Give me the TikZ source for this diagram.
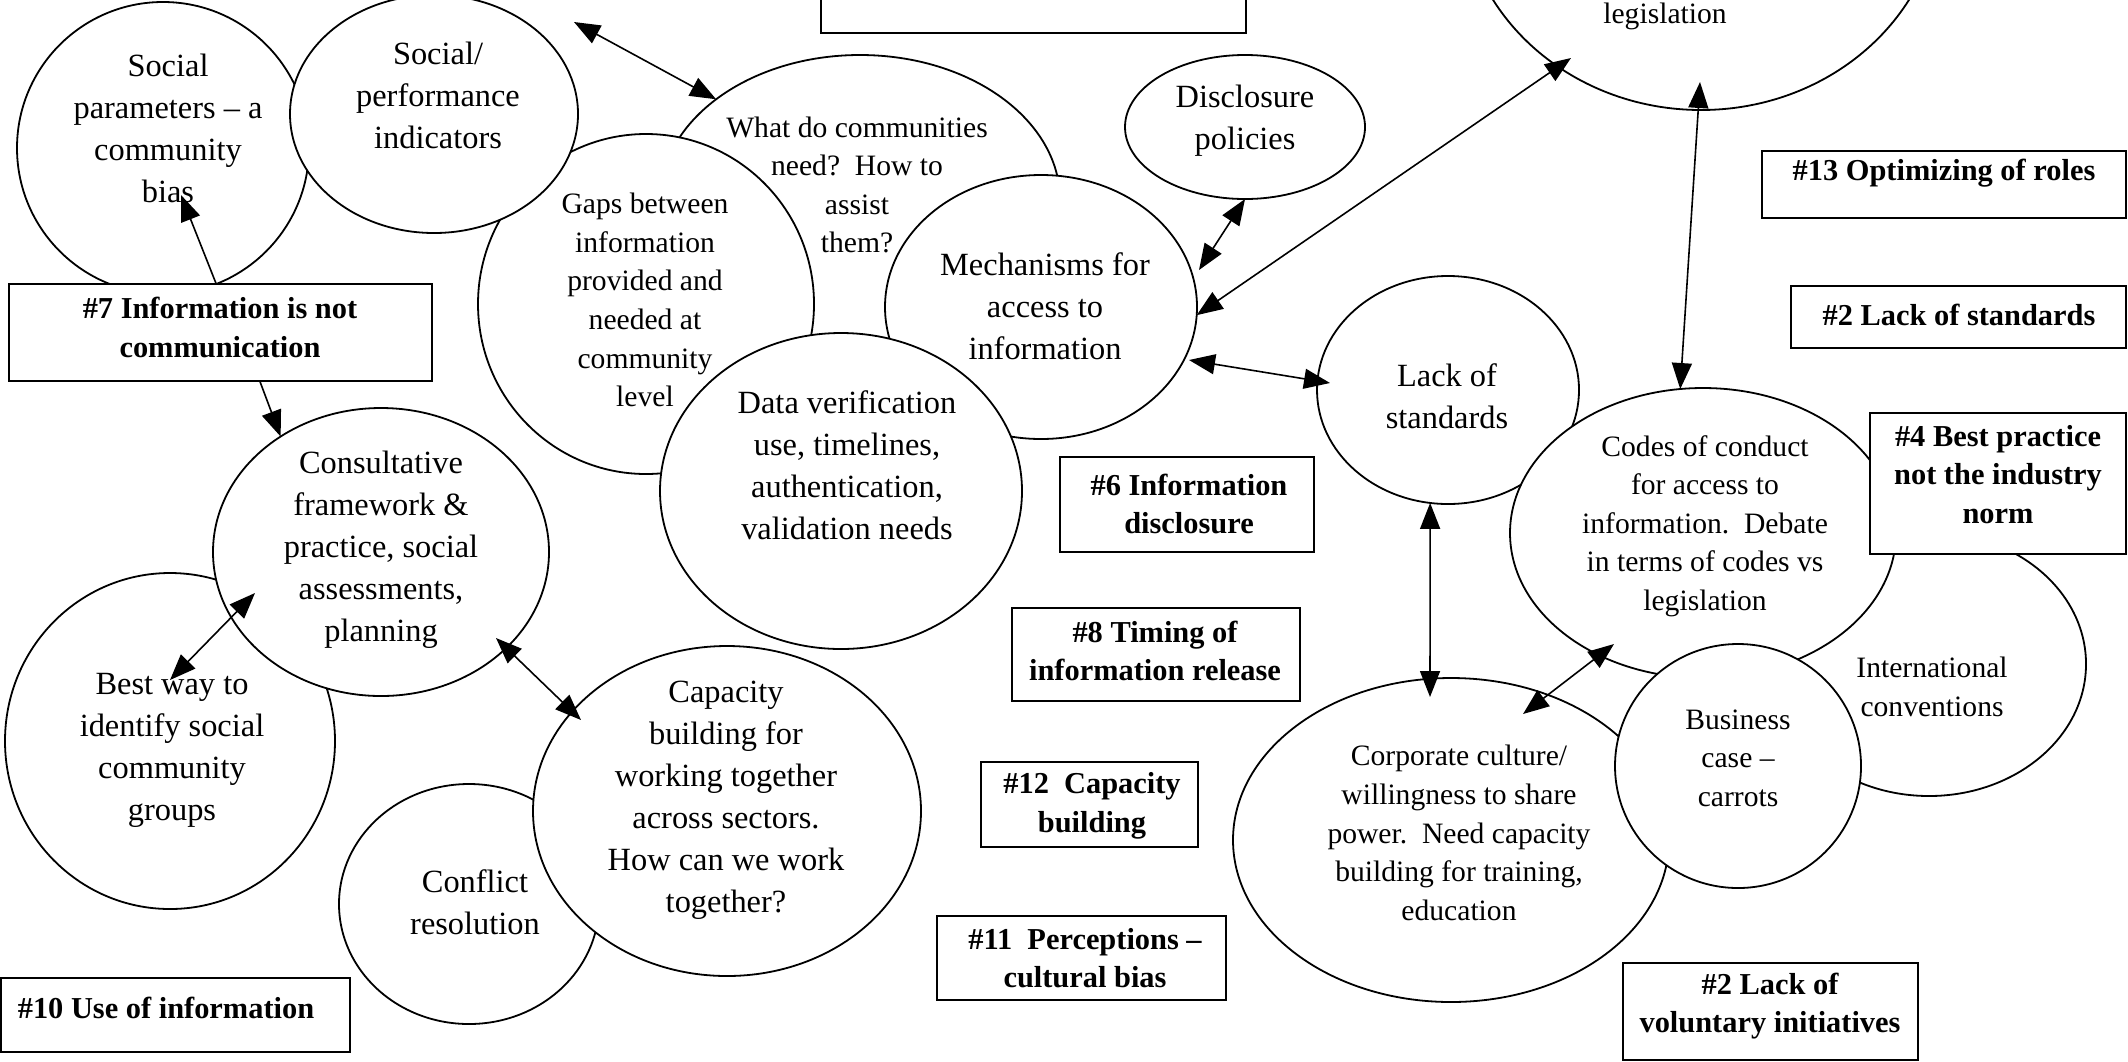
\documentclass[tikz,border=0pt]{standalone}
\usepackage{fontspec}
\setmainfont{Liberation Serif}
\usetikzlibrary{shapes.geometric,arrows.meta}
\begin{document}
\begin{tikzpicture}[x=0.5pt,y=-0.5pt,
  ell/.style={ellipse,draw,fill=white,line width=0.9pt,inner sep=0pt,outer sep=0pt},
  boxn/.style={rectangle,draw,fill=white,line width=1pt,inner sep=0pt,outer sep=0pt},
  tl/.style={align=center,inner sep=0pt,font=\fontsize{16.2}{21}\selectfont},
  ts/.style={align=center,inner sep=0pt,font=\fontsize{14.8}{19.3}\selectfont},
  tb/.style={align=center,inner sep=0pt,font=\fontsize{15.2}{19.3}\selectfont\bfseries},
  dbl/.style={{Triangle[length=13pt,width=10pt]}-{Triangle[length=13pt,width=10pt]},line width=0.8pt},
  sgl/.style={-{Triangle[length=13pt,width=10pt]},line width=0.8pt}]
\useasboundingbox (0,0) rectangle (2128,1061);
\clip (0,0) rectangle (2128,1061);
\fill[white] (0,0) rectangle (2128,1061);

% ---------- left / centre cluster ----------
\node[ell,minimum width=146pt,minimum height=146pt] (sp) at (163,148) {};
\node[tl] (tsp) at (168,128) {Social\\parameters – a\\community\\bias};

\node[ell,minimum width=200pt,minimum height=145pt] (comm) at (860,200) {};
\node[ts] (tcomm) at (857,185) {What do communities\\need?\ \ How to\\assist\\them?};

\node[ell,minimum width=168pt,minimum height=170pt] (gaps) at (646,304) {};
\node[ts] (tgaps) at (645,300) {Gaps between\\information\\provided and\\needed at\\community\\level};

\node[ell,minimum width=144pt,minimum height=119pt] (spi) at (434,114) {};
\node[tl] (tspi) at (438,95) {Social/\\performance\\indicators};

\node[ell,minimum width=156pt,minimum height=132pt] (mech) at (1041,307) {};
\node[tl] (tmech) at (1045,306) {Mechanisms for\\access to\\information};

\node[ell,minimum width=181pt,minimum height=158pt] (data) at (841,491) {};
\node[tl] (tdata) at (847,465) {Data verification\\use, timelines,\\authentication,\\validation needs};

\node[ell,minimum width=120pt,minimum height=72pt] (disc) at (1245,127) {};
\node[tl] (tdisc) at (1245,121) {Disclosure\\policies};

\node[ell,minimum width=165pt,minimum height=168pt] (best) at (170,741) {};
\node[tl] (tbest) at (172,750) {Best way to\\identify social\\community\\groups};

\node[ell,minimum width=168pt,minimum height=144pt] (cons) at (381,552) {};
\node[tl] (tcons) at (381,550) {Consultative\\framework \&\\practice, social\\assessments,\\planning};

\node[ell,minimum width=130pt,minimum height=120pt] (confl) at (469,904) {};
\node[tl] (tconfl) at (475,902) {Conflict\\resolution};

\node[ell,minimum width=194pt,minimum height=165pt] (cap) at (727,811) {};
\node[tl] (tcap) at (726,800) {Capacity\\building for\\working together\\across sectors.\\How can we work\\together?};

% ---------- right cluster ----------
\node[ell,minimum width=240pt,minimum height=220pt] (leg) at (1701,-110) {};
\node[ts,anchor=base] (tleg) at (1665,23) {legislation};

\node[ell,minimum width=131pt,minimum height=114pt] (lack) at (1448,390) {};
\node[tl] (tlack) at (1447,396) {Lack of\\standards};

\node[ell,minimum width=157pt,minimum height=132pt] (intl) at (1929,664) {};
\node[ts] (tintl) at (1932,687) {International\\conventions};

\node[ell,minimum width=193pt,minimum height=145pt] (codes) at (1703,533) {};
\node[ts] (tcodes) at (1705,526) {Codes of conduct\\for access to\\information.\ \ Debate\\in terms of codes vs\\legislation};

\node[ell,minimum width=218pt,minimum height=162pt] (corp) at (1451,840) {};
\node[ts] (tcorp) at (1459,833) {Corporate culture/\\willingness to share\\power.\ \ Need capacity\\building for training,\\education};

\node[ell,minimum width=123pt,minimum height=122pt] (biz) at (1738,766) {};
\node[ts] (tbiz) at (1738,758) {Business\\case –\\carrots};

% ---------- boxes ----------
\node[boxn,minimum width=212.5pt,minimum height=56.5pt] (btop) at (1033.5,-23.5) {};

\node[boxn,minimum width=211.5pt,minimum height=48.5pt] (b7) at (220.5,332.5) {};
\node[tb] (tb7) at (220,327.5) {\#7 Information is not\\communication};

\node[boxn,minimum width=174.5pt,minimum height=37pt] (b10) at (175.5,1015) {};
\node[tb] (tb10) at (166,1008) {\#10 Use of information};

\node[boxn,minimum width=182pt,minimum height=33.5pt] (b13) at (1944,184.5) {};
\node[tb] (tb13) at (1944,173) {\#13 Optimizing of roles};

\node[boxn,minimum width=167.5pt,minimum height=31pt] (b2a) at (1958.5,317) {};
\node[tb] (tb2a) at (1959,315) {\#2 Lack of standards};

\node[boxn,minimum width=128pt,minimum height=70.5pt] (b4) at (1998,483.5) {};
\node[tb] (tb4) at (1998,474.5) {\#4 Best practice\\not the industry\\norm};

\node[boxn,minimum width=127pt,minimum height=47.5pt] (b6) at (1187,504.5) {};
\node[tb] (tb6) at (1189,504) {\#6 Information\\disclosure};

\node[boxn,minimum width=144pt,minimum height=46.5pt] (b8) at (1156,654.5) {};
\node[tb] (tb8) at (1155,651) {\#8 Timing of\\information release};

\node[boxn,minimum width=108.5pt,minimum height=42.5pt] (b12) at (1089.5,804.5) {};
\node[tb] (tb12) at (1092,805.5) {\#12\ \ Capacity\\building};

\node[boxn,minimum width=144.5pt,minimum height=42pt] (b11) at (1081.5,958) {};
\node[tb] (tb11) at (1085,958) {\#11\ \ Perceptions –\\cultural bias};

\node[boxn,minimum width=147.5pt,minimum height=48.5pt] (b2b) at (1770.5,1011.5) {};
\node[tb] (tb2b) at (1770,1006) {\#2 Lack of\\voluntary initiatives};

% ---------- arrow end points ----------
\coordinate (a1s) at (574,22);
\coordinate (a2e) at (181,195);
\coordinate (a4a) at (255,593);
\coordinate (a4b) at (170,680);
\coordinate (a5a) at (496,638);
\coordinate (a5b) at (581,720);
\coordinate (a6e) at (1199,270);
\coordinate (a7e) at (1571,58);
\coordinate (a8a) at (1189,360);
\coordinate (a8b) at (1330,383);
\coordinate (a9a) at (1700,82);
\coordinate (a10b) at (1430,697);
\coordinate (a11a) at (1614,644);
\coordinate (a11b) at (1523,714);

% ---------- arrows ----------
\draw[dbl] (a1s) -- (comm.145.6);
\draw[sgl] (b7.95.3) -- (a2e);
\draw[sgl] (b7.-51.6) -- (cons.131.5);
\draw[dbl] (a4a) -- (a4b);
\draw[dbl] (a5a) -- (a5b);
\draw[dbl] (disc.-90) -- (a6e);
\draw[dbl] (mech.-3.6) -- (a7e);
\draw[dbl] (a8a) -- (a8b);
\draw[dbl] (a9a) -- (codes.99.8);
\draw[dbl] (lack.261) -- (a10b);
\draw[dbl] (a11a) -- (a11b);
\end{tikzpicture}
\end{document}
